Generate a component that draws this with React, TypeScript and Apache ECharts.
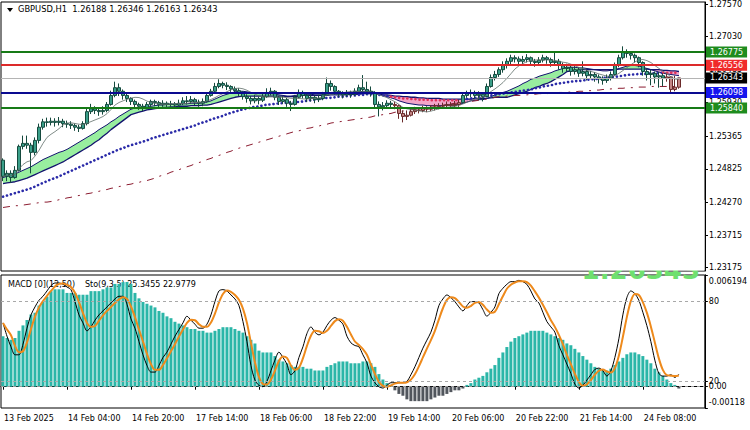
import { useEffect, useRef } from "react";
import * as echarts from "echarts";

const FONT = "DejaVu Sans";
const SYMBOL = "GBPUSD,H1";
const TIME_LABELS = ["13 Feb 2025", "14 Feb 04:00", "14 Feb 20:00", "17 Feb 14:00", "18 Feb 06:00", "18 Feb 22:00", "19 Feb 14:00", "20 Feb 06:00", "20 Feb 22:00", "21 Feb 14:00", "24 Feb 08:00"];
const LABEL_EVERY = 16;
const SLOT_COUNT = 176;

const FIRST_OPEN = 1.2497;
const CLOSE = [
  1.2470, 1.2475, 1.2468, 1.2480, 1.2520, 1.2525, 1.2522, 1.2510, 1.2530, 1.2552,
  1.2561, 1.2560, 1.2562, 1.2560, 1.2562, 1.2558, 1.2557, 1.2555, 1.2552, 1.2550,
  1.2558, 1.2578, 1.2583, 1.2580, 1.2578, 1.2580, 1.2590, 1.2605, 1.2618, 1.2612,
  1.2605, 1.2600, 1.2595, 1.2590, 1.2587, 1.2585, 1.2590, 1.2595, 1.2593, 1.2590,
  1.2592, 1.2590, 1.2591, 1.2589, 1.2592, 1.2596, 1.2595, 1.2598, 1.2594, 1.2592,
  1.2595, 1.2605, 1.2612, 1.2620, 1.2625, 1.2622, 1.2620, 1.2616, 1.2613, 1.2610,
  1.2603, 1.2600, 1.2596, 1.2600, 1.2597, 1.2603, 1.2610, 1.2612, 1.2602, 1.2595,
  1.2598, 1.2592, 1.2590, 1.2602, 1.2610, 1.2605, 1.2600, 1.2602, 1.2598, 1.2600,
  1.2606, 1.2625, 1.2620, 1.2612, 1.2608, 1.2606, 1.2609, 1.2607, 1.2612, 1.2618,
  1.2615, 1.2612, 1.2610, 1.2590, 1.2586, 1.2588, 1.2592, 1.2590, 1.2588, 1.2575,
  1.2570, 1.2572, 1.2578, 1.2581, 1.2580, 1.2583, 1.2582, 1.2585, 1.2586, 1.2587,
  1.2588, 1.2590, 1.2588, 1.2590, 1.2593, 1.2605, 1.2608, 1.2610, 1.2605, 1.2607,
  1.2603, 1.2620, 1.2635, 1.2640, 1.2648, 1.2655, 1.2662, 1.2668, 1.2666, 1.2662,
  1.2665, 1.2668, 1.2662, 1.2660, 1.2664, 1.2668, 1.2665, 1.2660, 1.2662, 1.2655,
  1.2650, 1.2652, 1.2645, 1.2648, 1.2642, 1.2645, 1.2638, 1.2640, 1.2636, 1.2633,
  1.2630, 1.2634, 1.2640, 1.2655, 1.2668, 1.2677, 1.2675, 1.2672, 1.2668, 1.2660,
  1.2645, 1.2640, 1.2642, 1.2636, 1.2638, 1.2634, 1.2636, 1.2615, 1.26188, 1.26343,
];
const HIGH = [
  1.2500, 1.2480, 1.2480, 1.2487, 1.2523, 1.2538, 1.2538, 1.2526, 1.2535, 1.2558,
  1.2566, 1.2568, 1.2568, 1.2567, 1.2569, 1.2566, 1.2563, 1.2562, 1.2558, 1.2556,
  1.2562, 1.2583, 1.2591, 1.2587, 1.2585, 1.2587, 1.2594, 1.2613, 1.2628, 1.2625,
  1.2615, 1.2610, 1.2602, 1.2598, 1.2593, 1.2591, 1.2594, 1.2598, 1.2598, 1.2596,
  1.2597, 1.2595, 1.2596, 1.2594, 1.2598, 1.2602, 1.2604, 1.2604, 1.2601, 1.2598,
  1.2600, 1.2610, 1.2616, 1.2626, 1.2632, 1.2628, 1.2627, 1.2622, 1.2620, 1.2617,
  1.2612, 1.2607, 1.2604, 1.2606, 1.2603, 1.2608, 1.2617, 1.2618, 1.2614, 1.2604,
  1.2604, 1.2601, 1.2596, 1.2606, 1.2615, 1.2613, 1.2608, 1.2607, 1.2605, 1.2606,
  1.2611, 1.2635, 1.2630, 1.2622, 1.2614, 1.2612, 1.2614, 1.2613, 1.2617, 1.2623,
  1.2639, 1.2628, 1.2620, 1.2612, 1.2595, 1.2594, 1.2597, 1.2596, 1.2594, 1.2590,
  1.2580, 1.2580, 1.2584, 1.2586, 1.2585, 1.2588, 1.2587, 1.2589, 1.2591, 1.2592,
  1.2593, 1.2595, 1.2594, 1.2596, 1.2598, 1.2610, 1.2613, 1.2615, 1.2613, 1.2612,
  1.2610, 1.2625, 1.2640, 1.2646, 1.2652, 1.2662, 1.2667, 1.2673, 1.2672, 1.2670,
  1.2671, 1.2674, 1.2670, 1.2666, 1.2669, 1.2673, 1.2671, 1.2668, 1.2678, 1.2666,
  1.2660, 1.2658, 1.2655, 1.2654, 1.2652, 1.2662, 1.2648, 1.2646, 1.2644, 1.2640,
  1.2637, 1.2640, 1.2645, 1.2660, 1.2673, 1.2687, 1.2682, 1.2678, 1.2675, 1.2670,
  1.2662, 1.2650, 1.2648, 1.2645, 1.2644, 1.2642, 1.2642, 1.2637, 1.2638, 1.26346,
];
const LOW = [
  1.2462, 1.2462, 1.2459, 1.2466, 1.2478, 1.2515, 1.2516, 1.2475, 1.2505, 1.2525,
  1.2548, 1.2553, 1.2555, 1.2553, 1.2555, 1.2552, 1.2551, 1.2549, 1.2546, 1.2544,
  1.2548, 1.2555, 1.2574, 1.2574, 1.2571, 1.2573, 1.2577, 1.2588, 1.2602, 1.2604,
  1.2598, 1.2594, 1.2589, 1.2585, 1.2581, 1.2579, 1.2582, 1.2586, 1.2587, 1.2585,
  1.2586, 1.2584, 1.2586, 1.2583, 1.2586, 1.2589, 1.2590, 1.2591, 1.2589, 1.2586,
  1.2587, 1.2593, 1.2603, 1.2610, 1.2617, 1.2617, 1.2614, 1.2611, 1.2608, 1.2604,
  1.2598, 1.2593, 1.2590, 1.2592, 1.2590, 1.2594, 1.2601, 1.2605, 1.2597, 1.2589,
  1.2591, 1.2586, 1.2579, 1.2588, 1.2600, 1.2600, 1.2594, 1.2595, 1.2592, 1.2594,
  1.2597, 1.2604, 1.2613, 1.2606, 1.2602, 1.2600, 1.2603, 1.2601, 1.2604, 1.2610,
  1.2608, 1.2606, 1.2603, 1.2584, 1.2570, 1.2580, 1.2584, 1.2583, 1.2582, 1.2566,
  1.2560, 1.2564, 1.2570, 1.2574, 1.2575, 1.2577, 1.2577, 1.2579, 1.2580, 1.2582,
  1.2583, 1.2584, 1.2583, 1.2585, 1.2586, 1.2591, 1.2601, 1.2602, 1.2600, 1.2597,
  1.2595, 1.2602, 1.2618, 1.2630, 1.2636, 1.2643, 1.2650, 1.2657, 1.2660, 1.2656,
  1.2657, 1.2660, 1.2656, 1.2653, 1.2656, 1.2660, 1.2658, 1.2653, 1.2655, 1.2648,
  1.2643, 1.2645, 1.2638, 1.2640, 1.2636, 1.2637, 1.2630, 1.2632, 1.2628, 1.2625,
  1.2623, 1.2626, 1.2630, 1.2638, 1.2652, 1.2665, 1.2668, 1.2665, 1.2660, 1.2652,
  1.2638, 1.2630, 1.2622, 1.2625, 1.2618, 1.2620, 1.2628, 1.2610, 1.2612, 1.26163,
];

// Ribbon (fast / slow EMAs)
const RIBBON_FAST = [
  1.2468, 1.2470, 1.2472, 1.2474, 1.2477, 1.2480, 1.2483, 1.2486, 1.2490, 1.2494,
  1.2498, 1.2501, 1.2504, 1.2507, 1.2510, 1.2512, 1.2515, 1.2519, 1.2523, 1.2527,
  1.2531, 1.2535, 1.2539, 1.2543, 1.2548, 1.2552, 1.2556, 1.2561, 1.2565, 1.2570,
  1.2574, 1.2578, 1.2582, 1.2584, 1.2585, 1.2586, 1.2587, 1.2587, 1.2588, 1.2589,
  1.2589, 1.2590, 1.2590, 1.2590, 1.2591, 1.2591, 1.2591, 1.2592, 1.2592, 1.2592,
  1.2593, 1.2594, 1.2596, 1.2599, 1.2602, 1.2605, 1.2607, 1.2609, 1.2611, 1.2612,
  1.2612, 1.2611, 1.2610, 1.2609, 1.2608, 1.2608, 1.2608, 1.2608, 1.2607, 1.2606,
  1.2605, 1.2604, 1.2604, 1.2605, 1.2606, 1.2607, 1.2607, 1.2607, 1.2606, 1.2606,
  1.2606, 1.2608, 1.2610, 1.2610, 1.2610, 1.2610, 1.2610, 1.2610, 1.2610, 1.2611,
  1.2612, 1.2612, 1.2612, 1.2610, 1.2607, 1.2605, 1.2603, 1.2601, 1.2599, 1.2596,
  1.2594, 1.2592, 1.2591, 1.2590, 1.2589, 1.2589, 1.2588, 1.2588, 1.2588, 1.2588,
  1.2588, 1.2589, 1.2589, 1.2589, 1.2590, 1.2592, 1.2594, 1.2596, 1.2597, 1.2598,
  1.2598, 1.2600, 1.2603, 1.2606, 1.2608, 1.2610, 1.2612, 1.2615, 1.2618, 1.2621,
  1.2625, 1.2628, 1.2632, 1.2634, 1.2637, 1.2639, 1.2641, 1.2643, 1.2646, 1.2648,
  1.2650, 1.2652, 1.2652, 1.2652, 1.2651, 1.2651, 1.2650, 1.2649, 1.2648, 1.2647,
  1.2646, 1.2646, 1.2647, 1.2648, 1.2650, 1.2652, 1.2654, 1.2655, 1.2655, 1.2654,
  1.2652, 1.2650, 1.2648, 1.2646, 1.2644, 1.2642, 1.2641, 1.2640, 1.2639, 1.2638,
];
const RIBBON_SLOW = [
  1.2458, 1.2459, 1.2460, 1.2461, 1.2463, 1.2465, 1.2467, 1.2470, 1.2473, 1.2476,
  1.2479, 1.2482, 1.2485, 1.2488, 1.2491, 1.2494, 1.2498, 1.2502, 1.2506, 1.2510,
  1.2514, 1.2518, 1.2522, 1.2527, 1.2531, 1.2537, 1.2542, 1.2548, 1.2553, 1.2558,
  1.2563, 1.2568, 1.2573, 1.2575, 1.2577, 1.2579, 1.2581, 1.2582, 1.2583, 1.2584,
  1.2585, 1.2585, 1.2586, 1.2586, 1.2587, 1.2587, 1.2587, 1.2588, 1.2588, 1.2588,
  1.2589, 1.2589, 1.2590, 1.2592, 1.2594, 1.2596, 1.2598, 1.2600, 1.2602, 1.2603,
  1.2604, 1.2604, 1.2604, 1.2604, 1.2604, 1.2604, 1.2604, 1.2604, 1.2604, 1.2604,
  1.2604, 1.2603, 1.2603, 1.2603, 1.2604, 1.2605, 1.2605, 1.2605, 1.2605, 1.2605,
  1.2605, 1.2605, 1.2606, 1.2606, 1.2606, 1.2606, 1.2607, 1.2607, 1.2607, 1.2607,
  1.2608, 1.2608, 1.2608, 1.2608, 1.2607, 1.2606, 1.2606, 1.2605, 1.2604, 1.2604,
  1.2603, 1.2603, 1.2602, 1.2602, 1.2601, 1.2601, 1.2600, 1.2600, 1.2600, 1.2600,
  1.2599, 1.2599, 1.2599, 1.2599, 1.2599, 1.2599, 1.2599, 1.2599, 1.2600, 1.2600,
  1.2600, 1.2600, 1.2601, 1.2602, 1.2602, 1.2602, 1.2602, 1.2604, 1.2606, 1.2608,
  1.2610, 1.2612, 1.2615, 1.2618, 1.2620, 1.2623, 1.2625, 1.2628, 1.2632, 1.2636,
  1.2640, 1.2645, 1.2646, 1.2647, 1.2647, 1.2648, 1.2648, 1.2648, 1.2648, 1.2648,
  1.2648, 1.2648, 1.2648, 1.2648, 1.2649, 1.2649, 1.2649, 1.2649, 1.2649, 1.2649,
  1.2649, 1.2649, 1.2648, 1.2648, 1.2648, 1.2647, 1.2647, 1.2646, 1.2646, 1.2645,
];
const MA_DOTTED = [
  1.2436, 1.2438, 1.2440, 1.2442, 1.2444, 1.2446, 1.2448, 1.2450, 1.2453, 1.2456,
  1.2459, 1.2462, 1.2465, 1.2467, 1.2470, 1.2473, 1.2476, 1.2479, 1.2482, 1.2485,
  1.2488, 1.2491, 1.2494, 1.2497, 1.2500, 1.2503, 1.2506, 1.2509, 1.2512, 1.2515,
  1.2517, 1.2520, 1.2522, 1.2524, 1.2526, 1.2528, 1.2530, 1.2533, 1.2535, 1.2537,
  1.2539, 1.2541, 1.2543, 1.2545, 1.2547, 1.2549, 1.2551, 1.2553, 1.2555, 1.2558,
  1.2560, 1.2562, 1.2565, 1.2567, 1.2569, 1.2571, 1.2574, 1.2576, 1.2578, 1.2580,
  1.2582, 1.2583, 1.2585, 1.2586, 1.2587, 1.2588, 1.2590, 1.2590, 1.2591, 1.2592,
  1.2592, 1.2593, 1.2593, 1.2594, 1.2594, 1.2595, 1.2596, 1.2597, 1.2598, 1.2599,
  1.2600, 1.2601, 1.2601, 1.2602, 1.2603, 1.2603, 1.2604, 1.2605, 1.2605, 1.2606,
  1.2606, 1.2607, 1.2607, 1.2606, 1.2606, 1.2605, 1.2604, 1.2603, 1.2602, 1.2601,
  1.2600, 1.2600, 1.2599, 1.2599, 1.2598, 1.2598, 1.2598, 1.2597, 1.2597, 1.2597,
  1.2597, 1.2597, 1.2597, 1.2597, 1.2597, 1.2598, 1.2599, 1.2600, 1.2601, 1.2602,
  1.2603, 1.2604, 1.2605, 1.2606, 1.2607, 1.2608, 1.2609, 1.2610, 1.2611, 1.2612,
  1.2613, 1.2614, 1.2615, 1.2617, 1.2618, 1.2620, 1.2621, 1.2622, 1.2624, 1.2625,
  1.2626, 1.2627, 1.2628, 1.2629, 1.2629, 1.2630, 1.2631, 1.2632, 1.2632, 1.2633,
  1.2634, 1.2635, 1.2636, 1.2636, 1.2637, 1.2638, 1.2639, 1.2640, 1.2640, 1.2641,
  1.2641, 1.2641, 1.2642, 1.2642, 1.2642, 1.2643, 1.2643, 1.2643, 1.2643, 1.2643,
];
const MA_DASHED = [
  1.2418, 1.2419, 1.2420, 1.2421, 1.2421, 1.2422, 1.2423, 1.2424, 1.2425, 1.2426,
  1.2427, 1.2427, 1.2428, 1.2429, 1.2431, 1.2432, 1.2434, 1.2435, 1.2437, 1.2438,
  1.2439, 1.2441, 1.2442, 1.2444, 1.2445, 1.2447, 1.2448, 1.2450, 1.2451, 1.2453,
  1.2454, 1.2456, 1.2457, 1.2459, 1.2460, 1.2462, 1.2463, 1.2465, 1.2467, 1.2470,
  1.2472, 1.2474, 1.2477, 1.2479, 1.2481, 1.2484, 1.2486, 1.2488, 1.2491, 1.2493,
  1.2495, 1.2498, 1.2500, 1.2503, 1.2505, 1.2507, 1.2510, 1.2512, 1.2515, 1.2517,
  1.2519, 1.2521, 1.2523, 1.2525, 1.2527, 1.2529, 1.2531, 1.2533, 1.2535, 1.2537,
  1.2539, 1.2541, 1.2543, 1.2545, 1.2546, 1.2548, 1.2550, 1.2551, 1.2553, 1.2554,
  1.2556, 1.2557, 1.2559, 1.2560, 1.2561, 1.2562, 1.2563, 1.2564, 1.2565, 1.2566,
  1.2567, 1.2568, 1.2569, 1.2571, 1.2572, 1.2573, 1.2574, 1.2575, 1.2577, 1.2578,
  1.2579, 1.2580, 1.2581, 1.2582, 1.2583, 1.2584, 1.2586, 1.2587, 1.2588, 1.2589,
  1.2589, 1.2590, 1.2591, 1.2592, 1.2592, 1.2593, 1.2594, 1.2595, 1.2596, 1.2597,
  1.2598, 1.2599, 1.2600, 1.2602, 1.2603, 1.2603, 1.2604, 1.2604, 1.2605, 1.2605,
  1.2606, 1.2606, 1.2607, 1.2607, 1.2608, 1.2608, 1.2608, 1.2609, 1.2609, 1.2610,
  1.2610, 1.2610, 1.2611, 1.2611, 1.2612, 1.2612, 1.2613, 1.2613, 1.2614, 1.2614,
  1.2615, 1.2615, 1.2616, 1.2616, 1.2617, 1.2617, 1.2618, 1.2618, 1.2618, 1.2619,
  1.2619, 1.2619, 1.2620, 1.2620, 1.2620, 1.2620, 1.2620, 1.2620, 1.2620, 1.2620,
];
const FAST_MA_PERIOD = 8;
// bar ranges where price sits below the dotted average (drawn in red tones)
const BELOW_ZONES = [[98, 114], [166, 169]];

const LEVELS = [1.26775, 1.26556, 1.26343, 1.26098, 1.2584];
const PRICE_TICKS = [1.2757, 1.2703, 1.26485, 1.2593, 1.25365, 1.24825, 1.2427, 1.23715, 1.23175];
const PRICE_MIN = 1.2312;
const PRICE_MAX = 1.2761;
const BIG_PRICE_TEXT = "1.26343";

const MACD_HIST = [
  0.0028, 0.0027, 0.0026, 0.0027, 0.0031, 0.0034, 0.0037, 0.0040, 0.0041, 0.0045,
  0.0047, 0.0050, 0.0053, 0.0054, 0.0054, 0.0054, 0.0052, 0.0052, 0.0052, 0.0051,
  0.0051, 0.0051, 0.0053, 0.0053, 0.0053, 0.0054, 0.0055, 0.0055, 0.0057, 0.0057,
  0.0058, 0.0058, 0.0057, 0.0052, 0.0049, 0.0047, 0.0046, 0.0045, 0.0044, 0.0042,
  0.0041, 0.0039, 0.0038, 0.0036, 0.0035, 0.0034, 0.0033, 0.0032, 0.0032, 0.0031,
  0.0031, 0.0030, 0.0030, 0.0031, 0.0032, 0.0033, 0.0033, 0.0033, 0.0032, 0.0031,
  0.0030, 0.0028, 0.0026, 0.0024, 0.0020, 0.0019, 0.0019, 0.0019, 0.0017, 0.0015,
  0.0014, 0.0013, 0.0012, 0.0011, 0.0011, 0.0011, 0.0010, 0.0010, 0.0009, 0.0009,
  0.0009, 0.0011, 0.0012, 0.0013, 0.0014, 0.0014, 0.0014, 0.0013, 0.0013, 0.0013,
  0.0014, 0.0014, 0.0013, 0.0011, 0.0007, 0.0004, 0.0002, 0.0001, -0.0002, -0.0004,
  -0.0005, -0.0007, -0.0008, -0.0008, -0.0008, -0.0008, -0.0008, -0.0007, -0.0006, -0.0005,
  -0.0005, -0.0004, -0.0003, -0.0002, -0.0002, -0.0001, 0.0001, 0.0002, 0.0004, 0.0005,
  0.0006, 0.0008, 0.0010, 0.0012, 0.0016, 0.0019, 0.0022, 0.0025, 0.0027, 0.0028,
  0.0029, 0.0030, 0.0031, 0.0031, 0.0031, 0.0031, 0.0030, 0.0029, 0.0028, 0.0027,
  0.0026, 0.0024, 0.0023, 0.0021, 0.0019, 0.0017, 0.0015, 0.0013, 0.0011, 0.0010,
  0.0009, 0.0009, 0.0010, 0.0012, 0.0014, 0.0016, 0.0018, 0.0019, 0.0019, 0.0018,
  0.0017, 0.0015, 0.0013, 0.0010, 0.0008, 0.0006, 0.0004, 0.0002, 0.0001, -0.0001,
];
const STOCH_MAIN = [
  64, 54, 46, 40, 40, 48, 60, 70, 76, 81,
  84, 88, 92, 94, 94, 93, 91, 89, 80, 70,
  64, 58, 61, 66, 70, 73, 76, 79, 82, 84,
  84, 78, 67, 60, 50, 40, 32, 27, 27, 32,
  38, 42, 48, 54, 59, 64, 69, 66, 63, 60,
  60, 63, 70, 80, 88, 89, 88, 85, 82, 77,
  65, 50, 32, 21, 17, 16, 20, 28, 36, 42,
  38, 33, 25, 28, 38, 46, 56, 61, 57, 55,
  57, 62, 66, 68, 66, 63, 54, 49, 47, 46,
  40, 34, 24, 19, 16, 15, 17, 19, 19, 19,
  19, 20, 25, 31, 38, 45, 51, 57, 66, 77,
  82, 85, 83, 80, 76, 73, 77, 80, 80, 79,
  74, 69, 72, 76, 86, 90, 93, 95, 95, 96,
  95, 93, 88, 82, 79, 72, 65, 61, 57, 47,
  40, 33, 26, 18, 15, 17, 21, 25, 29, 30,
  28, 24, 28, 38, 52, 70, 83, 88, 86, 81,
  72, 62, 50, 36, 26, 24, 24, 25, 23, 25.3455,
];
const STOCH_SIGNAL_PERIOD = 3;
const STOCH_LEVELS = [80, 20];
const MACD_MIN = -0.00118;
const MACD_MAX = 0.006194;
const MACD_AXIS_VALUES = [0.006194, 0, -0.00118];
const INDICATOR_TITLE = "MACD [0](12,50)";
const STOCH_TITLE = "Sto(9,3,5) 25.3455 22.9779";

function movingAverage(src: number[], period: number) {
  return src.map((_, i) => {
    const s = src.slice(Math.max(0, i - period + 1), i + 1);
    return s.reduce((a, b) => a + b, 0) / s.length;
  });
}

function buildOption() {
  const n = CLOSE.length;
  const cats = Array.from({ length: SLOT_COUNT }, (_, i) => String(i));
  const opens = CLOSE.map((c, i) => (i === 0 ? FIRST_OPEN : CLOSE[i - 1]));
  const inZone = (i: number) => BELOW_ZONES.some(([a, b]) => i >= a && i <= b);

  const candleData = CLOSE.map((c, i) => {
    const o = opens[i];
    const z = inZone(i);
    const fill = z ? "#c58585" : "#3a9f89";
    const edge = z ? "#6a2a2a" : "#154a3e";
    return {
      value: [o, c, Math.min(LOW[i], o, c), Math.max(HIGH[i], o, c)],
      itemStyle: { color: fill, color0: fill, borderColor: edge, borderColor0: edge, borderWidth: 1 },
    };
  });

  const ribbonBase = RIBBON_FAST.map((v, i) => Math.min(v, RIBBON_SLOW[i]));
  const ribbonUp = RIBBON_FAST.map((v, i) => Math.max(0, v - RIBBON_SLOW[i]));
  const ribbonDown = RIBBON_FAST.map((v, i) => Math.max(0, RIBBON_SLOW[i] - v));
  const fastMA = movingAverage(CLOSE, FAST_MA_PERIOD);
  const dottedBlue = MA_DOTTED.map((v, i) => (inZone(i) ? null : v));
  const dottedRed = MA_DOTTED.map((v, i) => (inZone(i) || inZone(i + 1) ? v : null));
  const stochSignal = movingAverage(STOCH_MAIN, STOCH_SIGNAL_PERIOD);

  const levelStyles = [
    { line: "#167a16", w: 2, box: "#1e8c1e" },
    { line: "#dc2a2a", w: 2, box: "#f02a2a" },
    { line: "#b4b4b4", w: 1, box: "#000000" },
    { line: "#0a0a90", w: 2, box: "#1515ee" },
    { line: "#167a16", w: 2, box: "#1e8c1e" },
  ];

  const showIdx = (index: number) => index % LABEL_EVERY === 0 && index / LABEL_EVERY < TIME_LABELS.length;
  const last = n - 1;
  const header = `${SYMBOL}  ${opens[last].toFixed(5)} ${HIGH[last].toFixed(5)} ${LOW[last].toFixed(5)} ${CLOSE[last].toFixed(5)}`;

  const lineBase = { type: "line", xAxisIndex: 0, yAxisIndex: 0, symbol: "none", silent: true };

  return {
    animation: false,
    backgroundColor: "#ffffff",
    textStyle: { fontFamily: FONT, fontSize: 8, color: "#000" },
    grid: [
      { left: 1, top: 2, width: 704, height: 269, show: true, borderColor: "#000", borderWidth: 1, backgroundColor: "transparent" },
      { left: 1, top: 275, width: 704, height: 133, show: true, borderColor: "#000", borderWidth: 1, backgroundColor: "transparent" },
    ],
    xAxis: [
      {
        type: "category", gridIndex: 0, data: cats, boundaryGap: true,
        axisLine: { show: false }, axisTick: { show: false }, axisLabel: { show: false }, splitLine: { show: false },
      },
      {
        type: "category", gridIndex: 1, data: cats, boundaryGap: true,
        axisLine: { show: true, lineStyle: { color: "#000" } },
        axisTick: { show: true, alignWithLabel: true, interval: showIdx, length: 3, lineStyle: { color: "#000" } },
        axisLabel: {
          interval: showIdx,
          formatter: (_v: string, idx: number) => (idx % LABEL_EVERY === 0 ? TIME_LABELS[idx / LABEL_EVERY] ?? "" : ""),
          align: "left", margin: 6, color: "#000", fontSize: 8, fontFamily: FONT, padding: [0, 0, 0, 1],
        },
        splitLine: { show: false },
      },
    ],
    yAxis: [
      {
        type: "value", gridIndex: 0, position: "right", min: PRICE_MIN, max: PRICE_MAX,
        axisLine: { show: true, lineStyle: { color: "#000" } },
        axisTick: { show: true, customValues: PRICE_TICKS, length: 3, lineStyle: { color: "#000" } },
        axisLabel: { customValues: PRICE_TICKS, formatter: (v: number) => v.toFixed(5), color: "#000", fontSize: 8, fontFamily: FONT, margin: 4 },
        splitLine: { show: false },
      },
      {
        type: "value", gridIndex: 1, position: "right", min: MACD_MIN, max: MACD_MAX,
        axisLine: { show: true, lineStyle: { color: "#000" } },
        axisTick: { show: true, customValues: MACD_AXIS_VALUES, length: 3, lineStyle: { color: "#000" } },
        axisLabel: {
          customValues: MACD_AXIS_VALUES,
          formatter: (v: number) => {
            if (Math.abs(v - MACD_MAX) < 1e-9) return `{t|${v.toFixed(6)}}`;
            if (Math.abs(v - MACD_MIN) < 1e-9) return `{b|${v.toFixed(5)}}`;
            return v.toFixed(2);
          },
          rich: {
            t: { padding: [12, 0, 0, 0], fontSize: 8, fontFamily: FONT, color: "#000" },
            b: { padding: [0, 0, 12, 0], fontSize: 8, fontFamily: FONT, color: "#000" },
          },
          color: "#000", fontSize: 8, fontFamily: FONT, margin: 4,
        },
        splitLine: { show: false },
      },
      {
        type: "value", gridIndex: 1, position: "right", min: 0, max: 100,
        axisLine: { show: true, lineStyle: { color: "#000" } },
        axisTick: { show: true, customValues: STOCH_LEVELS, length: 3, lineStyle: { color: "#000" } },
        axisLabel: { customValues: STOCH_LEVELS, formatter: (v: number) => String(v), color: "#000", fontSize: 8, fontFamily: FONT, margin: 4 },
        splitLine: { show: false },
      },
    ],
    graphic: [
      {
        type: "text", z: 0, x: 700, y: 283, silent: true,
        style: { text: BIG_PRICE_TEXT, font: `bold 26px "${FONT}"`, fill: "#6fe06f", align: "right", verticalAlign: "bottom" },
      },
      { type: "rect", z: 0, shape: { x: 540, y: 200, width: 164.5, height: 70.5 }, style: { fill: "#ffffff" }, silent: true },
      { type: "polygon", shape: { points: [[7, 8], [13, 8], [10, 12]] }, style: { fill: "#000" }, silent: true },
      { type: "text", left: 18, top: 5, style: { text: header, font: `8.3px "${FONT}"`, fill: "#000" }, silent: true },
      { type: "text", left: 8, top: 280, style: { text: INDICATOR_TITLE, font: `8px "${FONT}"`, fill: "#000" }, silent: true },
      { type: "text", left: 85, top: 280, style: { text: STOCH_TITLE, font: `8px "${FONT}"`, fill: "#000" }, silent: true },
    ],
    series: [
      { ...lineBase, stack: "ribbon", data: ribbonBase, lineStyle: { opacity: 0 }, z: 1 },
      { ...lineBase, stack: "ribbon", data: ribbonUp, lineStyle: { opacity: 0 }, areaStyle: { color: "#98ee9f", opacity: 1 }, z: 1 },
      { ...lineBase, stack: "ribbon", data: ribbonDown, lineStyle: { opacity: 0 }, areaStyle: { color: "#f2a5c8", opacity: 1 }, z: 1 },
      { ...lineBase, data: RIBBON_FAST, lineStyle: { color: "#13136e", width: 1 }, z: 2 },
      { ...lineBase, data: RIBBON_SLOW, lineStyle: { color: "#13136e", width: 1.3 }, z: 2 },
      { ...lineBase, data: MA_DASHED, lineStyle: { color: "#8b1c30", width: 1, type: [7, 6, 2, 6] }, z: 2 },
      { ...lineBase, data: dottedBlue, lineStyle: { color: "#2a2aa8", width: 2.6, type: [0.1, 4], cap: "round" }, z: 2 },
      { ...lineBase, data: dottedRed, lineStyle: { color: "#e0305a", width: 2.6, type: [0.1, 4], cap: "round" }, z: 2 },
      {
        ...lineBase, data: fastMA, lineStyle: { color: "#5f6f69", width: 0.8 }, z: 4,
        markLine: {
          silent: true, symbol: "none", animation: false, precision: 5,
          data: LEVELS.map((lv, k) => ({
            yAxis: lv,
            lineStyle: { color: levelStyles[k].line, width: levelStyles[k].w, type: "solid" },
            label: {
              show: true, position: "end", distance: 1, formatter: lv.toFixed(5),
              backgroundColor: levelStyles[k].box, color: "#fff", padding: [1, 4, 1, 4],
              fontSize: 8, fontFamily: FONT, lineHeight: 9,
            },
          })),
        },
      },
      { type: "candlestick", xAxisIndex: 0, yAxisIndex: 0, data: candleData, barWidth: 3, z: 3, silent: true },
      {
        type: "bar", xAxisIndex: 1, yAxisIndex: 1, barWidth: 3, silent: true,
        data: MACD_HIST.map((v) => ({ value: v, itemStyle: { color: v < 0 ? "#51565d" : "#2bb6a8" } })),
        markLine: {
          silent: true, symbol: "none", animation: false, label: { show: false },
          lineStyle: { color: "#9a9a9a", width: 1, type: [3, 3] },
          data: [{ yAxis: 0 }],
        },
      },
      {
        type: "line", xAxisIndex: 1, yAxisIndex: 2, data: STOCH_MAIN, symbol: "none", smooth: 0.3, silent: true,
        lineStyle: { color: "#000", width: 1 }, z: 3,
        markLine: {
          silent: true, symbol: "none", animation: false, label: { show: false },
          lineStyle: { color: "#a8a8a8", width: 1, type: [3, 3] },
          data: STOCH_LEVELS.map((v) => ({ yAxis: v })),
        },
      },
      {
        type: "line", xAxisIndex: 1, yAxisIndex: 2, data: stochSignal, symbol: "none", smooth: 0.3, silent: true,
        lineStyle: { color: "#ee8a1c", width: 2 }, z: 4,
      },
    ],
  };
}

export default function App() {
  const ref = useRef<HTMLDivElement>(null);
  useEffect(() => {
    document.body.style.margin = "0";
    const chart = echarts.init(ref.current as HTMLDivElement, null, { renderer: "svg" });
    chart.setOption(buildOption() as any);
    return () => chart.dispose();
  }, []);
  return <div ref={ref} style={{ width: 750, height: 430 }} />;
}
